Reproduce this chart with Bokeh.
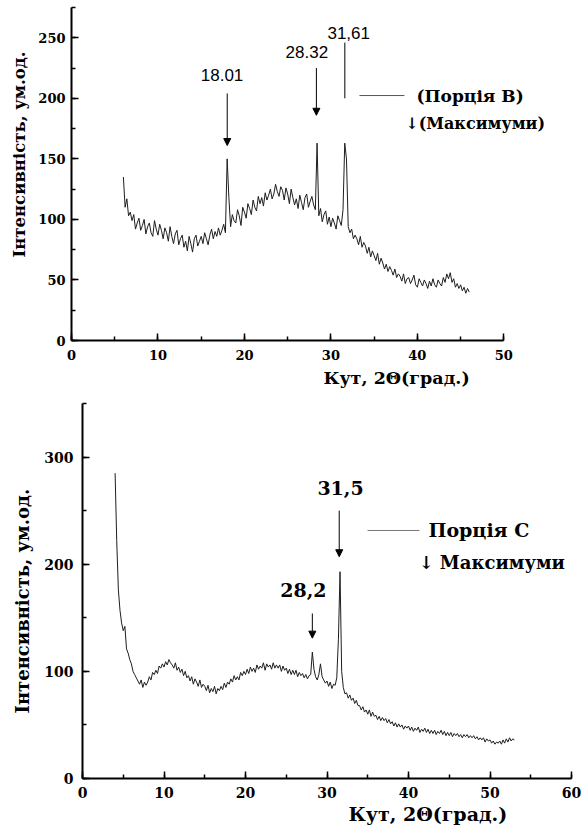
import numpy as np
from bokeh.plotting import figure
from bokeh.layouts import column
from bokeh.models import Label, Arrow, NormalHead, SingleIntervalTicker, Range1d, Title
from bokeh.embed import file_html
from bokeh.resources import INLINE

# ---------------- data: portion B (top) ----------------
b_start, b_step = 6.0, 0.2
b_intensity = [
    135, 110, 117, 103, 106,
    99, 104, 92, 97, 101,
    91, 95, 100, 88, 94,
    97, 89, 86, 99, 92,
    87, 96, 91, 84, 93,
    89, 82, 94, 86, 80,
    88, 91, 79, 84, 87,
    77, 82, 74, 86, 80,
    73, 84, 87, 78, 82,
    86, 80, 89, 84, 79,
    87, 92, 84, 90, 86,
    93, 87, 91, 96, 89,
    150, 118, 94, 104, 99,
    97, 108, 103, 95, 110,
    106, 101, 113, 109, 104,
    116, 110, 107, 119, 113,
    118, 111, 122, 116, 120,
    125, 117, 121, 129, 123,
    119, 127, 124, 116, 126,
    121, 113, 125, 118, 112,
    117, 109, 120, 114, 108,
    118, 121, 110, 115, 119,
    112, 108, 163, 103, 109,
    98, 104, 107, 96, 102,
    94, 101, 97, 92, 103,
    99, 95, 108, 163, 150,
    94, 89, 92, 84, 87,
    84, 79, 86, 77, 81,
    78, 72, 77, 69, 74,
    70, 66, 72, 63, 68,
    64, 59, 63, 57, 61,
    58, 54, 59, 52, 55,
    53, 49, 55, 47, 51,
    52, 47, 50, 54, 46,
    44, 51, 48, 45, 50,
    47, 43, 49, 45, 51,
    46, 44, 50, 47, 45,
    52, 48, 55, 51, 56,
    48, 51, 44, 47, 43,
    46, 41, 44, 39, 43,
    40,
]
b_peaks = [18.01, 28.32, 31.61]
b_peak_labels = ["18.01", "28.32", "31,61"]

# ---------------- data: portion C (bottom) ----------------
c_start, c_step = 4.0, 0.2
c_intensity = [
    285, 222, 176, 157, 145,
    138, 142, 121, 117, 111,
    107, 100, 97, 94, 91,
    88, 92, 85, 90, 87,
    90, 95, 92, 99, 97,
    101, 98, 105, 103, 107,
    104, 109, 106, 111, 108,
    106, 103, 108, 101, 104,
    99, 102, 96, 100, 94,
    96, 91, 95, 88, 93,
    90, 86, 92, 85, 88,
    86, 82, 87, 80, 84,
    81, 86, 79, 84, 82,
    86, 83, 89, 85, 90,
    88, 93, 90, 96, 92,
    95, 92, 99, 96, 100,
    97, 102, 98, 104, 100,
    103, 99, 106, 102, 105,
    103, 108, 101, 107, 104,
    106, 102, 108, 103, 106,
    103, 106, 100, 105, 101,
    103, 98, 102, 97, 101,
    97, 101, 95, 99, 96,
    98, 94, 97, 93, 96,
    97, 118, 102, 95, 92,
    97, 107, 95, 92, 89,
    91, 86, 90, 84, 88,
    87, 94, 130, 193, 100,
    85, 79, 80, 75, 78,
    73, 75, 70, 73, 68,
    68, 64, 67, 62, 64,
    60, 64, 58, 62, 58,
    59, 55, 58, 54, 57,
    54, 56, 52, 55, 51,
    53, 49, 52, 48, 51,
    48, 50, 46, 49, 47,
    49, 45, 48, 44, 47,
    45, 48, 43, 46, 44,
    47, 43, 46, 42, 45,
    42, 45, 41, 44, 42,
    45, 41, 44, 40, 43,
    40, 43, 39, 42, 40,
    42, 39, 41, 38, 41,
    39, 41, 38, 40, 38,
    40, 37, 39, 36, 38,
    36, 38, 34, 37, 35,
    36, 33, 35, 32, 34,
    33, 35, 32, 36, 33,
    37, 34, 38, 35, 37,
    36,
]
c_peaks = [28.2, 31.5]
c_peak_labels = ["28,2", "31,5"]

x_label = "Кут, 2Θ(град.)"
y_label = "Інтенсивність, ум.од."

SERIF = "DejaVu Serif"
SANS = "Liberation Sans"


def style(p, xint, yint, xbounds, tick_size, x_standoff, y_standoff):
    p.grid.visible = False
    p.outline_line_color = None
    p.frame_align = False
    p.xaxis.ticker = SingleIntervalTicker(interval=xint, num_minor_ticks=2)
    p.yaxis.ticker = SingleIntervalTicker(interval=yint, num_minor_ticks=2)
    p.xaxis.bounds = xbounds
    for ax in (p.xaxis[0], p.yaxis[0]):
        ax.axis_line_width = 2
        ax.axis_line_color = "black"
        ax.major_tick_in = 7
        ax.major_tick_out = 0
        ax.minor_tick_in = 4
        ax.minor_tick_out = 0
        ax.major_tick_line_width = 1.5
        ax.minor_tick_line_width = 1.5
        ax.major_tick_line_color = "black"
        ax.minor_tick_line_color = "black"
        ax.major_label_text_font = SERIF
        ax.major_label_text_font_style = "bold"
        ax.major_label_text_font_size = tick_size
        ax.major_label_text_color = "black"
    p.xaxis[0].major_label_standoff = x_standoff
    p.yaxis[0].major_label_standoff = y_standoff


def titles(p, xoff, yoff, xsize, ysize, xstand, ystand):
    p.add_layout(Title(text=x_label, align="left", offset=xoff, standoff=xstand,
                       text_font=SERIF, text_font_size=xsize, text_font_style="bold",
                       text_color="black"), "below")
    p.add_layout(Title(text=y_label, align="left", offset=yoff, standoff=ystand,
                       text_font=SERIF, text_font_size=ysize, text_font_style="bold",
                       text_color="black"), "left")


def lbl(p, x, y, text, font, size, bold=False, align="center"):
    p.add_layout(Label(x=x, y=y, text=text, text_font=font,
                       text_font_size=size,
                       text_font_style="bold" if bold else "normal",
                       text_align=align, text_baseline="middle", text_color="black"))


def arrow(p, x, y0, y1, head=True, color="black"):
    end = NormalHead(size=7, fill_color=color, line_color=color, line_width=1) if head else None
    p.add_layout(Arrow(end=end, x_start=x, y_start=y0, x_end=x, y_end=y1,
                       line_color=color, line_width=1))


# ---------------- top figure (Порція В) ----------------
bx = np.round(b_start + b_step * np.arange(len(b_intensity)), 3)
p1 = figure(width=582, height=395, x_range=Range1d(0, 56.32), y_range=Range1d(0, 275),
            output_backend="svg", toolbar_location=None,
            min_border_left=68, min_border_right=24, min_border_top=7, min_border_bottom=55)
style(p1, 10, 50, (0, 50), "13px", 9, 6)
titles(p1, 252, 83, "17.5px", "16.5px", 7, 14)
p1.line(bx, b_intensity, line_color="#1e1e1e", line_width=1)

lbl(p1, b_peaks[0] - 0.6, 219, b_peak_labels[0], SANS, "17px")
arrow(p1, b_peaks[0], 204, 161)
lbl(p1, b_peaks[1] - 1.1, 238, b_peak_labels[1], SANS, "17px")
arrow(p1, b_peaks[1], 225, 186)
lbl(p1, b_peaks[2] + 0.45, 254, b_peak_labels[2], SANS, "17px")
arrow(p1, b_peaks[2], 246, 200, head=False)

p1.add_layout(Arrow(end=None, x_start=33.3, y_start=202.3, x_end=38.5, y_end=202.3,
                    line_color="#555555", line_width=1))
lbl(p1, 39.9, 202.3, "(Порція В)", SERIF, "17px", bold=True, align="left")
lbl(p1, 38.6, 179.2, "↓(Максимуми)", SERIF, "16px", bold=True, align="left")

# ---------------- bottom figure (Порція С) ----------------
cx = np.round(c_start + c_step * np.arange(len(c_intensity)), 3)
p2 = figure(width=582, height=437, x_range=Range1d(0, 60), y_range=Range1d(0, 350),
            output_backend="svg", toolbar_location=None,
            min_border_left=82, min_border_right=11, min_border_top=8, min_border_bottom=54)
style(p2, 10, 100, (0, 60), "14px", 8, 9)
titles(p2, 266, 65, "19px", "18px", 0, 17)
p2.line(cx, c_intensity, line_color="#1e1e1e", line_width=1)

lbl(p2, 27.1, 175.5, c_peak_labels[0], SERIF, "19px", bold=True)
arrow(p2, c_peaks[0], 154, 131)
lbl(p2, 31.66, 270.7, c_peak_labels[1], SERIF, "19px", bold=True)
arrow(p2, c_peaks[1], 250, 207)

p2.add_layout(Arrow(end=None, x_start=34.97, y_start=231.5, x_end=41.35, y_end=231.5,
                    line_color="#777777", line_width=1))
lbl(p2, 42.45, 231.5, "Порція С", SERIF, "19px", bold=True, align="left")
lbl(p2, 41.23, 201.6, "↓ Максимуми", SERIF, "18px", bold=True, align="left")

layout = column(p1, p2, spacing=0)
open("out.html", "w").write(file_html(layout, INLINE))
